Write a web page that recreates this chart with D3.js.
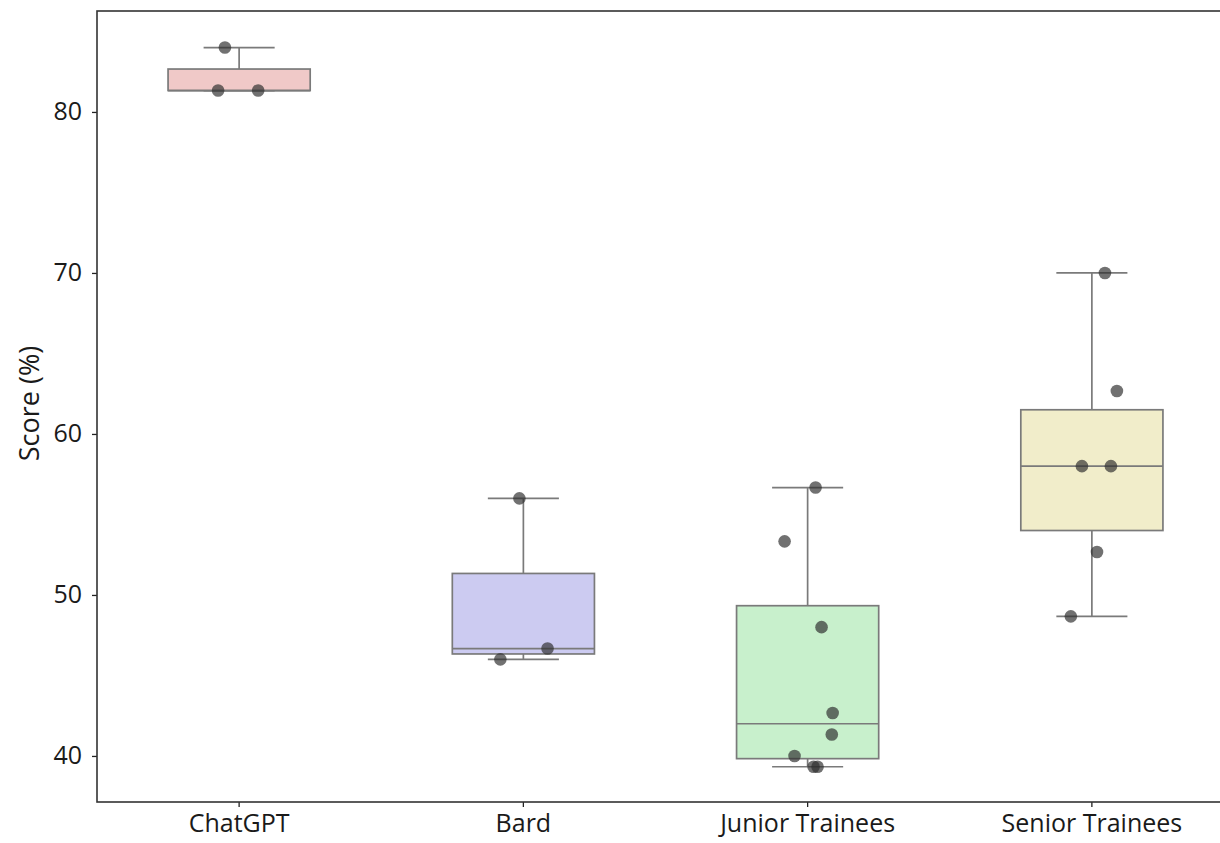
<!DOCTYPE html>
<html>
<head>
<meta charset="utf-8">
<script src="https://cdn.jsdelivr.net/npm/d3@7"></script>
<style>
  html, body { margin: 0; padding: 0; background: #fff; }
  svg { display: block; }
  text { font-family: "Open Sans", "Noto Sans", sans-serif; fill: #1a1a1a; }
</style>
</head>
<body>
<svg id="chart" width="1220" height="843"></svg>
<script>
// ---- data ----
const categories = ["ChatGPT", "Bard", "Junior Trainees", "Senior Trainees"];
const chatgptScores = [84, 81.33, 81.33];
const bardScores = [56, 46.67, 46];
const juniorScores = [56.67, 53.33, 48, 42.67, 41.33, 40, 39.33, 39.33];
const seniorScores = [70, 62.67, 58, 58, 52.67, 48.67];
// horizontal jitter of each point, as fraction of category width
const chatgptJitter = [-0.05, -0.074, 0.067];
const bardJitter = [-0.014, 0.085, -0.081];
const juniorJitter = [0.028, -0.081, 0.049, 0.088, 0.085, -0.046, 0.021, 0.035];
const seniorJitter = [0.046, 0.088, -0.035, 0.067, 0.018, -0.074];
const boxColors = ["#f0c9c8", "#cccbf1", "#c8f0cc", "#f1edca"];
const yTicks = [40, 50, 60, 70, 80];
const yLabel = "Score (%)";

const groups = [
  { name: categories[0], values: chatgptScores, jitter: chatgptJitter, color: boxColors[0] },
  { name: categories[1], values: bardScores, jitter: bardJitter, color: boxColors[1] },
  { name: categories[2], values: juniorScores, jitter: juniorJitter, color: boxColors[2] },
  { name: categories[3], values: seniorScores, jitter: seniorJitter, color: boxColors[3] }
];

// ---- layout ----
const W = 1220, H = 843;
const margin = { left: 97, top: 11, right: -14, bottom: 41 };
const svg = d3.select("#chart");

const x = d3.scaleBand().domain(categories)
  .range([margin.left, W - margin.right]).paddingInner(0).paddingOuter(0);
const y = d3.scaleLinear().domain([37.14, 86.27])
  .range([H - margin.bottom, margin.top]);

const bw = x.bandwidth();
const boxW = bw * 0.5;
const capW = boxW * 0.5;
const stroke = "#7a7a7a";

function stats(vals) {
  const s = vals.slice().sort(d3.ascending);
  const q1 = d3.quantile(s, 0.25), med = d3.quantile(s, 0.5), q3 = d3.quantile(s, 0.75);
  const iqr = q3 - q1;
  const lo = d3.min(s.filter(v => v >= q1 - 1.5 * iqr));
  const hi = d3.max(s.filter(v => v <= q3 + 1.5 * iqr));
  return { q1, med, q3, lo, hi };
}

const g = svg.append("g");

groups.forEach(grp => {
  const st = stats(grp.values);
  const cx = x(grp.name) + bw / 2;
  const gg = g.append("g");
  // whiskers
  gg.append("line").attr("x1", cx).attr("x2", cx).attr("y1", y(st.q3)).attr("y2", y(st.hi))
    .attr("stroke", stroke).attr("stroke-width", 1.7);
  gg.append("line").attr("x1", cx).attr("x2", cx).attr("y1", y(st.q1)).attr("y2", y(st.lo))
    .attr("stroke", stroke).attr("stroke-width", 1.7);
  gg.append("line").attr("x1", cx - capW / 2).attr("x2", cx + capW / 2).attr("y1", y(st.hi)).attr("y2", y(st.hi))
    .attr("stroke", stroke).attr("stroke-width", 1.7);
  gg.append("line").attr("x1", cx - capW / 2).attr("x2", cx + capW / 2).attr("y1", y(st.lo)).attr("y2", y(st.lo))
    .attr("stroke", stroke).attr("stroke-width", 1.7);
  // box
  gg.append("rect").attr("x", cx - boxW / 2).attr("width", boxW)
    .attr("y", y(st.q3)).attr("height", y(st.q1) - y(st.q3))
    .attr("fill", grp.color).attr("stroke", stroke).attr("stroke-width", 1.7);
  // median
  gg.append("line").attr("x1", cx - boxW / 2).attr("x2", cx + boxW / 2).attr("y1", y(st.med)).attr("y2", y(st.med))
    .attr("stroke", stroke).attr("stroke-width", 1.7);
  // points
  gg.selectAll("circle").data(grp.values).join("circle")
    .attr("cx", (d, i) => cx + grp.jitter[i] * bw)
    .attr("cy", d => y(d))
    .attr("r", 6.3)
    .attr("fill", "#2e2e2e").attr("fill-opacity", 0.68);
});

// axes
const yAxis = d3.axisLeft(y).tickValues(yTicks).tickSize(5).tickPadding(10).tickFormat(d3.format("d"));
const xAxis = d3.axisBottom(x).tickSize(5).tickPadding(7);

const ya = svg.append("g").attr("transform", `translate(${margin.left},0)`).call(yAxis);
const xa = svg.append("g").attr("transform", `translate(0,${H - margin.bottom})`).call(xAxis);
[ya, xa].forEach(a => {
  a.attr("font-size", 25);
  a.select(".domain").remove();
  a.selectAll(".tick line").attr("stroke", "#222").attr("stroke-width", 1.3);
  a.selectAll(".tick text").attr("font-size", 25).style("font-size", "25px").attr("fill", "#1a1a1a")
    .attr("font-family", '"Open Sans", "Noto Sans", sans-serif');
});

// frame
svg.append("rect").attr("x", margin.left).attr("y", margin.top)
  .attr("width", W - margin.right - margin.left).attr("height", H - margin.bottom - margin.top)
  .attr("fill", "none").attr("stroke", "#333").attr("stroke-width", 1.6);

// y label
svg.append("text")
  .attr("transform", `translate(39,${(margin.top + H - margin.bottom) / 2 - 3}) rotate(-90)`)
  .attr("text-anchor", "middle")
  .style("font-size", "27px")
  .text(yLabel);
</script>
</body>
</html>
